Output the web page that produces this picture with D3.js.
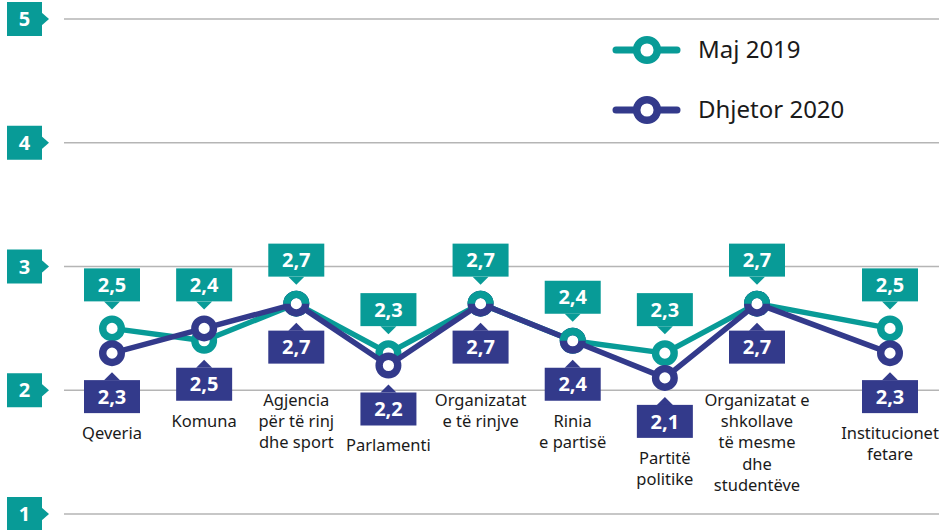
<!DOCTYPE html>
<html>
<head>
<meta charset="utf-8">
<script src="https://cdn.jsdelivr.net/npm/d3@7"></script>
<style>
  html, body { margin: 0; padding: 0; background: #ffffff; }
  svg { display: block; }
</style>
</head>
<body>
<svg id="chart" width="939" height="530"></svg>
<script>
// Institutions rated by young people (scale 1–5)
const categories = [
  "Qeveria",
  "Komuna",
  "Agjencia\npër të rinj\ndhe sport",
  "Parlamenti",
  "Organizatat\ne të rinjve",
  "Rinia\ne partisë",
  "Partitë\npolitike",
  "Organizatat e\nshkollave\ntë mesme\ndhe\nstudentëve",
  "Institucionet\nfetare"
];
const seriesNames = ["Maj 2019", "Dhjetor 2020"];
const maj2019     = [2.5, 2.4, 2.7, 2.3, 2.7, 2.4, 2.3, 2.7, 2.5];
const dhjetor2020 = [2.3, 2.5, 2.7, 2.2, 2.7, 2.4, 2.1, 2.7, 2.3];
const yTicks = [1, 2, 3, 4, 5];

const TEAL = "#089b97";
const NAVY = "#333a8b";
const FONT = "'Noto Sans', 'Open Sans', sans-serif";

const svg = d3.select("#chart");
const W = 939;

const locale = d3.formatLocale({ decimal: ",", thousands: ".", grouping: [3], currency: ["", "€"] });
const fmt = locale.format(".1f");

const y = d3.scaleLinear().domain([1, 5]).range([514, 19]);
// the last column sits a little further out to give its long label room
const x = d3.scaleLinear().domain([0, 7, 8]).range([112, 757, 890]);

// grid lines and tag-shaped tick labels
const grid = svg.append("g");
grid.selectAll("line").data(yTicks).join("line")
  .attr("x1", 64).attr("x2", W)
  .attr("y1", d => y(d)).attr("y2", d => y(d))
  .attr("stroke", "#b5b5b5").attr("stroke-width", 1.5);

const tick = svg.append("g").selectAll("g").data(yTicks).join("g")
  .attr("transform", d => `translate(0,${y(d)})`);
tick.append("rect").attr("x", 7).attr("y", -17).attr("width", 35).attr("height", 34).attr("fill", TEAL);
tick.append("path").attr("d", "M41,-7L49,0L41,7Z").attr("fill", TEAL);
tick.append("text").attr("x", 24.5).attr("y", 0).attr("dy", "0.36em")
  .attr("text-anchor", "middle").attr("fill", "#fff")
  .attr("font-family", FONT).attr("font-weight", 700).attr("font-size", 20)
  .text(d => d);

const series = [
  { name: seriesNames[0], values: maj2019, color: TEAL },
  { name: seriesNames[1], values: dhjetor2020, color: NAVY }
];

const line = d3.line().x((d, i) => x(i)).y(d => y(d));

const R = 9.3, SW = 7.4;

// lines and markers: teal first, navy drawn over it
series.forEach(s => {
  svg.append("path").datum(s.values)
    .attr("d", line).attr("fill", "none")
    .attr("stroke", s.color).attr("stroke-width", 5.5)
    .attr("stroke-linejoin", "round");
  svg.append("g").selectAll("circle").data(s.values).join("circle")
    .attr("cx", (d, i) => x(i)).attr("cy", d => y(d)).attr("r", R)
    .attr("fill", "#fff").attr("stroke", s.color).attr("stroke-width", SW);
});

// where both surveys coincide, the marker is split: teal upper half
const halfRing = d3.arc().innerRadius(R - SW / 2).outerRadius(R + SW / 2)
  .startAngle(-Math.PI / 2).endAngle(Math.PI / 2);
svg.append("g").selectAll("path")
  .data(maj2019.map((v, i) => ({ v, i })).filter(d => d.v === dhjetor2020[d.i]))
  .join("path")
  .attr("transform", d => `translate(${x(d.i)},${y(d.v)})`)
  .attr("d", halfRing).attr("fill", TEAL);

// value callouts
const BW = 56, BH = 33;
const callouts = svg.append("g");
categories.forEach((c, i) => {
  const cx = x(i);
  const top = Math.min(y(maj2019[i]), y(dhjetor2020[i]));
  const bot = Math.max(y(maj2019[i]), y(dhjetor2020[i]));

  // Maj 2019 above
  const tipA = top - 19, boxA = top - 27;
  callouts.append("path")
    .attr("d", `M${cx - 8},${boxA}L${cx},${tipA}L${cx + 8},${boxA}Z`).attr("fill", TEAL);
  callouts.append("rect").attr("x", cx - BW / 2).attr("y", boxA - BH)
    .attr("width", BW).attr("height", BH).attr("fill", TEAL);
  callouts.append("text").attr("x", cx).attr("y", boxA - BH / 2).attr("dy", "0.36em")
    .attr("text-anchor", "middle").attr("fill", "#fff")
    .attr("font-family", FONT).attr("font-weight", 700).attr("font-size", 20)
    .text(fmt(maj2019[i]));

  // Dhjetor 2020 below
  const tipB = bot + 19, boxB = bot + 27;
  callouts.append("path")
    .attr("d", `M${cx - 8},${boxB}L${cx},${tipB}L${cx + 8},${boxB}Z`).attr("fill", NAVY);
  callouts.append("rect").attr("x", cx - BW / 2).attr("y", boxB)
    .attr("width", BW).attr("height", BH).attr("fill", NAVY);
  callouts.append("text").attr("x", cx).attr("y", boxB + BH / 2).attr("dy", "0.36em")
    .attr("text-anchor", "middle").attr("fill", "#fff")
    .attr("font-family", FONT).attr("font-weight", 700).attr("font-size", 20)
    .text(fmt(dhjetor2020[i]));

  // category name under the lower callout
  const firstLine = Math.max(boxB + BH + 20, 400);
  const t = svg.append("text").attr("text-anchor", "middle")
    .attr("font-family", FONT).attr("font-size", 16.5).attr("fill", "#1a1a1a");
  c.split("\n").forEach((ln, k) => {
    t.append("tspan").attr("x", cx).attr("y", firstLine + k * 21.3).attr("dy", "0.35em").text(ln);
  });
});

// legend
const legend = svg.append("g").selectAll("g").data(series).join("g")
  .attr("transform", (d, i) => `translate(616,${50 + i * 60})`);
legend.append("line").attr("x1", 0).attr("x2", 61).attr("y1", 0).attr("y2", 0)
  .attr("stroke", d => d.color).attr("stroke-width", 7).attr("stroke-linecap", "round");
legend.append("circle").attr("cx", 31).attr("cy", 0).attr("r", 10.3)
  .attr("fill", "#fff").attr("stroke", d => d.color).attr("stroke-width", 7.5);
legend.append("text").attr("x", 82).attr("y", 0).attr("dy", "0.35em")
  .attr("font-family", FONT).attr("font-size", 24).attr("fill", "#1a1a1a")
  .text(d => d.name);
</script>
</body>
</html>
